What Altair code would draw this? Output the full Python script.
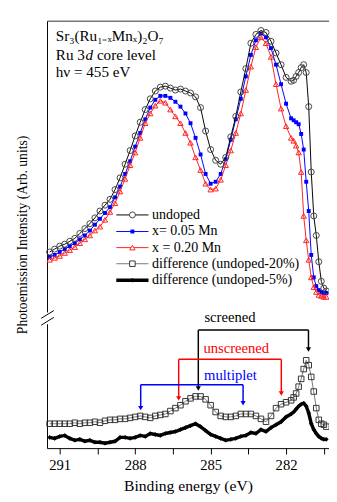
import altair as alt
import pandas as pd

# ---------------- data ----------------
energy = [291.4, 291.2, 291.0, 290.8, 290.6, 290.4, 290.2, 290.0, 289.8, 289.6,
          289.4, 289.2, 289.0, 288.8, 288.6, 288.4, 288.2, 288.0, 287.8, 287.6,
          287.4, 287.2, 287.0, 286.8, 286.6, 286.4, 286.2, 286.0, 285.8, 285.6,
          285.4, 285.2, 285.0, 284.8, 284.6, 284.4, 284.2, 284.0, 283.8, 283.6,
          283.4, 283.2, 283.0, 282.8, 282.6, 282.4, 282.2, 282.0, 281.8,
          281.7, 281.6, 281.5, 281.4, 281.3, 281.2, 281.1, 281.0, 280.9, 280.8,
          280.7, 280.6, 280.5, 280.4]

undoped = [201, 204, 207, 209, 212, 215, 220, 225, 230, 236,
           243, 249, 255, 265, 277, 291, 305, 320, 334, 347,
           358, 366, 370, 371, 369, 367, 368, 366, 364, 360,
           349, 325, 306, 295, 291, 298, 319, 340, 365, 389,
           415, 424, 428, 426, 417, 405, 393, 380, 376,
           377, 381, 385, 390, 393, 385, 350, 283, 238, 218, 191, 171, 164, 161]

mn05 = [196, 198, 201, 204, 207, 210, 214, 218, 223, 229,
        235, 241, 247, 257, 268, 281, 294, 309, 323, 337,
        349, 357, 361, 361, 359, 355, 350, 343, 333, 318,
        301, 281, 271, 273, 281, 296, 316, 337, 358, 381,
        403, 418, 425, 421, 410, 393, 373, 353, 338,
        336, 334, 332, 322, 306, 273, 243, 198, 175, 166, 162, 160, 159, 159]

mn20 = [193, 195, 197, 200, 203, 206, 210, 214, 218, 223,
        227, 234, 242, 251, 263, 276, 290, 303, 318, 333,
        343, 351, 356, 354, 347, 340, 333, 323, 313, 298,
        285, 271, 265, 266, 275, 290, 305, 323, 343, 367,
        391, 411, 421, 415, 401, 373, 348, 330, 318,
        315, 310, 303, 283, 238, 213, 193, 175, 165, 160, 157, 156, 155, 155]

diff20 = [25, 25, 25, 25, 25, 26, 25, 26, 26, 27,
          26, 28, 29, 29, 30, 30, 31, 32, 33, 32,
          31, 33, 34, 35, 38, 41, 44, 48, 51, 53,
          53, 50, 44, 37, 33, 32, 32, 33, 35, 35,
          35, 33, 30, 27, 33, 41, 45, 47, 49,
          52, 56, 63, 71, 81, 90, 85, 73, 58, 41, 29, 25, 24, 22]

diff05 = [11, 10, 12, 13, 10, 8, 9, 7, 8, 6,
          6, 5, 6, 7, 11, 11, 10, 11, 13, 12,
          15, 14, 13, 15, 16, 17, 19, 21, 23, 25,
          22, 18, 14, 12, 10, 8, 9, 10, 12, 13,
          16, 15, 19, 17, 21, 24, 27, 32, 35,
          37, 40, 43, 45, 46, 43, 36, 25, 19, 15, 12, 10, 9, 9]

x_ticks = [291, 289.5, 288, 286.5, 285, 283.5, 282, 280.5]

legend_labels = ["undoped", "x= 0.05 Mn", "x = 0.20 Mn",
                 "difference (undoped-20%)", "difference (undoped-5%)"]
legend_rows = [239, 222, 205.5, 189, 172]

ann_labels = ["screened", "unscreened", "multiplet"]
ann_colors = ["black", "#ff0000", "#0000ff"]
ann_text_x = [284.23, 283.98, 284.21]
ann_text_y = [134, 103, 75]
ann_left = [285.49, 286.27, 287.78]
ann_right = [281.11, 282.19, 283.71]
ann_bar = [121, 91, 65]
ann_tip_left = [58, 48, 38]
ann_tip_right = [98, 53, 43]

# ---------------- layout constants ----------------
X_DOMAIN = [291.504, 280.294]
Y_DOMAIN = [0, 438]
FONT = "Liberation Serif"

xscale = alt.Scale(domain=X_DOMAIN, nice=False, zero=False)
yscale = alt.Scale(domain=Y_DOMAIN, nice=False, zero=False)

X_BOTTOM = alt.X("energy:Q", scale=xscale,
                 axis=alt.Axis(values=x_ticks,
                               labelExpr="datum.value % 3 == 0 ? datum.label : ''",
                               tickSize=6, tickColor="black", tickWidth=1,
                               domainColor="black", domainWidth=1,
                               labelFont=FONT, labelFontSize=15, labelColor="black",
                               labelPadding=4, labelOverlap=False,
                               title="Binding energy (eV)", titleFont=FONT,
                               titleFontSize=16, titleFontWeight="normal",
                               titleColor="black", titlePadding=5, grid=False))
X_TOP = alt.X("energy:Q", scale=xscale,
              axis=alt.Axis(orient="top", labels=False, ticks=False, title=None,
                            domainColor="#777777", domainWidth=1.5, grid=False))
X_NONE = alt.X("energy:Q", scale=xscale, axis=None)
Y = alt.Y("value:Q", scale=yscale,
          axis=alt.Axis(title="Photoemission Intensity (Arb. units)", labels=False,
                        ticks=False, grid=False, domainColor="black", domainWidth=1,
                        titleFont=FONT, titleFontSize=14, titleFontWeight="normal",
                        titleColor="black", titlePadding=18))


def series_df(vals):
    return pd.DataFrame({"energy": energy, "value": vals})


def series_layers(vals, line_color, line_width, shape, size, filled, pt_color, first=False):
    d = series_df(vals)
    base = alt.Chart(d)
    xx = X_BOTTOM if first else X_NONE
    line = base.mark_line(color=line_color, strokeWidth=line_width).encode(x=xx, y=Y)
    pts = base.mark_point(shape=shape, size=size, filled=filled, color=pt_color,
                          strokeWidth=1, opacity=1).encode(x=X_NONE, y=Y)
    return [line, pts]


layers = []
layers += series_layers(diff05, "black", 3.5, "diamond", 22, True, "black", first=True)
layers += series_layers(diff20, "#777777", 1, "square", 32, False, "#333333")
layers += series_layers(mn05, "#0000ff", 1, "square", 16, True, "#0000ff")
layers += series_layers(mn20, "#ff2020", 1, "triangle-up", 30, False, "#ff2020")
layers += series_layers(undoped, "black", 1, "circle", 38, False, "#444444")

# ---------------- annotation brackets ----------------
rule_rows = []
tip_rows = []
text_rows = []
for i in range(3):
    c = ann_colors[i]
    rule_rows.append(dict(energy=ann_left[i], energy2=ann_right[i], value=ann_bar[i], value2=ann_bar[i], c=c))
    rule_rows.append(dict(energy=ann_left[i], energy2=ann_left[i], value=ann_bar[i], value2=ann_tip_left[i] + 3, c=c))
    rule_rows.append(dict(energy=ann_right[i], energy2=ann_right[i], value=ann_bar[i], value2=ann_tip_right[i] + 3, c=c))
    tip_rows.append(dict(energy=ann_left[i], value=ann_tip_left[i] + 3, c=c))
    tip_rows.append(dict(energy=ann_right[i], value=ann_tip_right[i] + 3, c=c))
    text_rows.append(dict(energy=ann_text_x[i], value=ann_text_y[i], label=ann_labels[i], c=c))

rules = alt.Chart(pd.DataFrame(rule_rows)).mark_rule(strokeWidth=1.5).encode(
    x=X_NONE, x2="energy2:Q", y=Y, y2="value2:Q",
    color=alt.Color("c:N", scale=None))
tips = alt.Chart(pd.DataFrame(tip_rows)).mark_point(shape="triangle-down", filled=True,
                                                   size=28, opacity=1).encode(
    x=X_NONE, y=Y, color=alt.Color("c:N", scale=None))
ann_text = alt.Chart(pd.DataFrame(text_rows)).mark_text(font=FONT, fontSize=15,
                                                       align="center", baseline="middle").encode(
    x=X_NONE, y=Y, text="label:N", color=alt.Color("c:N", scale=None))
layers += [rules, tips, ann_text]

# ---------------- legend ----------------
LEG_X1, LEG_X2, LEG_SYM, LEG_TXT = 288.75, 287.47, 288.11, 287.33
leg_line_styles = [("black", 1), ("#0000ff", 1), ("#ff2020", 1), ("#777777", 1), ("black", 3.5)]
leg_sym_styles = [("circle", 38, False, "#444444"), ("square", 16, True, "#0000ff"),
                  ("triangle-up", 30, False, "#ff2020"), ("square", 32, False, "#333333"),
                  ("diamond", 22, True, "black")]
for i in range(5):
    lc, lw = leg_line_styles[i]
    sh, sz, fl, pc = leg_sym_styles[i]
    d = pd.DataFrame({"energy": [LEG_X1], "energy2": [LEG_X2], "value": [legend_rows[i]]})
    layers.append(alt.Chart(d).mark_rule(color=lc, strokeWidth=lw).encode(x=X_NONE, x2="energy2:Q", y=Y))
    dp = pd.DataFrame({"energy": [LEG_SYM], "value": [legend_rows[i]]})
    layers.append(alt.Chart(dp).mark_point(shape=sh, size=sz, filled=fl, color=pc, opacity=1,
                                           fill="white" if not fl else pc,
                                           strokeWidth=1).encode(x=X_NONE, y=Y))
leg_text = pd.DataFrame({"energy": [LEG_TXT] * 5, "value": legend_rows, "label": legend_labels})
layers.append(alt.Chart(leg_text).mark_text(font=FONT, fontSize=14.3, align="left",
                                            baseline="middle", color="black").encode(
    x=X_NONE, y=Y, text="label:N"))

# ---------------- sample description ----------------
title_pieces = pd.DataFrame({
    "energy": [291.155, 291.155, 289.972, 289.522, 291.155],
    "value": [422, 403, 403, 403, 385],
    "label": ["Sr₃(Ru₁₋ₓMnₓ)₂O₇", "Ru 3", "d", "core level", "hν = 455 eV"],
    "style": ["normal", "normal", "italic", "normal", "normal"],
})
layers.append(alt.Chart(title_pieces[title_pieces["style"] == "normal"]).mark_text(
    font=FONT, fontSize=15.5, align="left", baseline="middle", color="black").encode(
    x=X_TOP, y=Y, text="label:N"))
layers.append(alt.Chart(title_pieces[title_pieces["style"] == "italic"]).mark_text(
    font=FONT, fontSize=15.5, fontStyle="italic", align="left", baseline="middle",
    color="black").encode(x=X_NONE, y=Y, text="label:N"))

# ---------------- axis break marks ----------------
gap = pd.DataFrame({"energy": [291.504], "energy2": [291.504], "value": [127], "value2": [139]})
layers.append(alt.Chart(gap).mark_rule(color="white", strokeWidth=4).encode(
    x=X_NONE, x2="energy2:Q", y=Y, y2="value2:Q"))
slashes = pd.DataFrame({"energy": [291.737, 291.737], "energy2": [291.233, 291.233],
                        "value": [126, 133], "value2": [134, 141]})
layers.append(alt.Chart(slashes).mark_rule(color="black", strokeWidth=1).encode(
    x=X_NONE, x2="energy2:Q", y=Y, y2="value2:Q"))

chart = alt.layer(*layers).resolve_axis(x="independent").properties(
    width=289, height=438,
    autosize=alt.AutoSizeParams(type="none"),
    padding={"left": 40, "top": 7, "right": 0, "bottom": 44},
).configure_view(stroke=None)

chart.save("out.html", embed_options={"renderer": "svg", "actions": False})
